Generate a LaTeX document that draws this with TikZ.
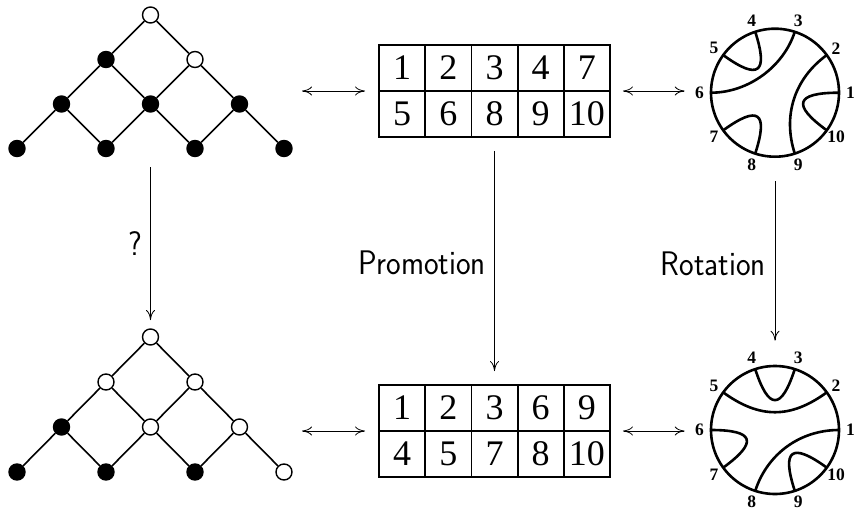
\documentclass[tikz,border=0pt]{standalone}
\usepackage{fontspec}
\setmainfont{Liberation Serif}
\usetikzlibrary{arrows.meta}
\newcommand\mychord[3]{\draw[circ] (#1:64) .. controls (#1:#3) and (#2:#3) .. (#2:64);}
\begin{document}
\begin{tikzpicture}[x=1pt,y=-1pt,
  lat/.style={line width=1.6pt},
  bnode/.style={circle, fill=black, draw=black, line width=1.4pt, minimum size=16pt, inner sep=0pt},
  wnode/.style={circle, fill=white, draw=black, line width=1.4pt, minimum size=16pt, inner sep=0pt},
  arr/.style={line width=0.8pt, -{To[length=10pt,width=9pt]}},
  darr/.style={line width=0.8pt, {To[length=10pt,width=9pt]}-{To[length=10pt,width=9pt]}},
  cell/.style={font=\fontsize{36}{40}\selectfont, inner sep=0pt},
  lbl/.style={font=\sffamily\fontsize{31}{36}\selectfont, inner sep=0pt},
  num/.style={font=\bfseries\fontsize{17.5}{20}\selectfont, inner sep=0pt},
  circ/.style={line width=2.6pt},
  tab/.style={draw, line width=1.8pt, minimum width=231pt, minimum height=92pt, inner sep=0pt},
  bigc/.style={circle, draw, line width=2.6pt, minimum size=128pt, inner sep=0pt},
]
\useasboundingbox (0,0) rectangle (855,512);

% ---------- top lattice ----------
\node[wnode] (t0) at (150.5,15) {};
\node[bnode] (t1) at (106,59.5) {};
\node[wnode] (t2) at (195,59.5) {};
\node[bnode] (t3) at (61.5,104) {};
\node[bnode] (t4) at (150.5,104) {};
\node[bnode] (t5) at (239.5,104) {};
\node[bnode] (t6) at (17,148.5) {};
\node[bnode] (t7) at (106,148.5) {};
\node[bnode] (t8) at (195,148.5) {};
\node[bnode] (t9) at (284,148.5) {};
\draw[lat] (t0)--(t1) (t0)--(t2) (t1)--(t3) (t1)--(t4) (t2)--(t4) (t2)--(t5)
  (t3)--(t6) (t3)--(t7) (t4)--(t7) (t4)--(t8) (t5)--(t8) (t5)--(t9);

% ---------- bottom lattice ----------
\node[wnode] (b0) at (150.5,337) {};
\node[wnode] (b1) at (106,382) {};
\node[wnode] (b2) at (195,382) {};
\node[bnode] (b3) at (61.5,427) {};
\node[wnode] (b4) at (150.5,427) {};
\node[wnode] (b5) at (239.5,427) {};
\node[bnode] (b6) at (17,472) {};
\node[bnode] (b7) at (106,472) {};
\node[bnode] (b8) at (195,472) {};
\node[wnode] (b9) at (284,472) {};
\draw[lat] (b0)--(b1) (b0)--(b2) (b1)--(b3) (b1)--(b4) (b2)--(b4) (b2)--(b5)
  (b3)--(b6) (b3)--(b7) (b4)--(b7) (b4)--(b8) (b5)--(b8) (b5)--(b9);

% ---------- tableaux ----------
\node[tab] (tabA) at (494.5,91) {};
\draw[line width=1.8pt] (tabA.west) -- (tabA.east);
\foreach \i in {1,...,4} \draw[line width=1.8pt] (379+46.2*\i,45) -- (379+46.2*\i,137);
\foreach \d [count=\i from 0] in {1,2,3,4,7} \node[cell] (ta\i) at (402.1+46.2*\i,68) {\d};
\foreach \d [count=\i from 0] in {5,6,8,9,10} \node[cell] (tb\i) at (402.1+46.2*\i,114) {\d};

\node[tab] (tabB) at (494.5,431) {};
\draw[line width=1.8pt] (tabB.west) -- (tabB.east);
\foreach \i in {1,...,4} \draw[line width=1.8pt] (379+46.2*\i,385) -- (379+46.2*\i,477);
\foreach \d [count=\i from 0] in {1,2,3,6,9} \node[cell] (tc\i) at (402.1+46.2*\i,408) {\d};
\foreach \d [count=\i from 0] in {4,5,7,8,10} \node[cell] (td\i) at (402.1+46.2*\i,454) {\d};

% ---------- circles ----------
\node[bigc] (cA) at (775,92.7) {};
\begin{scope}[shift={(cA.center)}, x=1pt, y=1pt]
  \mychord{0}{324}{20.5}
  \mychord{36}{-72}{24}
  \mychord{72}{180}{27}
  \mychord{108}{144}{20.5}
  \mychord{216}{252}{20.5}
  \foreach \k in {1,...,10} \node[num] (na\k) at ({36*(\k-1)}:75.5) {\k};
\end{scope}

\node[bigc] (cB) at (775,430) {};
\begin{scope}[shift={(cB.center)}, x=1pt, y=1pt]
  \mychord{0}{252}{25}
  \mychord{36}{144}{19}
  \mychord{72}{108}{20.5}
  \mychord{180}{216}{20.5}
  \mychord{288}{324}{20.5}
  \foreach \k in {1,...,10} \node[num] (nb\k) at ({36*(\k-1)}:75.5) {\k};
\end{scope}

% ---------- horizontal arrows ----------
\coordinate (la) at (302,91);
\coordinate (lb) at (302,431);
\draw[darr, shorten >=13pt] (la) -- (tabA.west);
\draw[darr, shorten <=12pt, shorten >=25pt] (tabA.east) -- (tabA.east -| cA.west);
\draw[darr, shorten >=13pt] (lb) -- (tabB.west);
\draw[darr, shorten <=12pt, shorten >=25pt] (tabB.east) -- (tabB.east -| cB.west);

% ---------- vertical arrows ----------
\coordinate (qa) at (150.5,167);
\coordinate (qb) at (150.5,320);
\draw[arr] (qa) -- (qb);
\draw[arr, shorten <=13pt, shorten >=13pt] (tabA.south) -- (tabB.north);
\draw[arr, shorten <=23pt, shorten >=24pt] (cA.south) -- (cB.north);

% ---------- labels ----------
\node[lbl] (ql) at (135,244) {\scalebox{1}[1.1]{?}};
\node[lbl, anchor=east] (pl) at (486,262.5) {\scalebox{1}[1.1]{Promotion}};
\node[lbl, anchor=east] (rl) at (766,264) {\scalebox{1}[1.1]{Rotation}};
\end{tikzpicture}
\end{document}
